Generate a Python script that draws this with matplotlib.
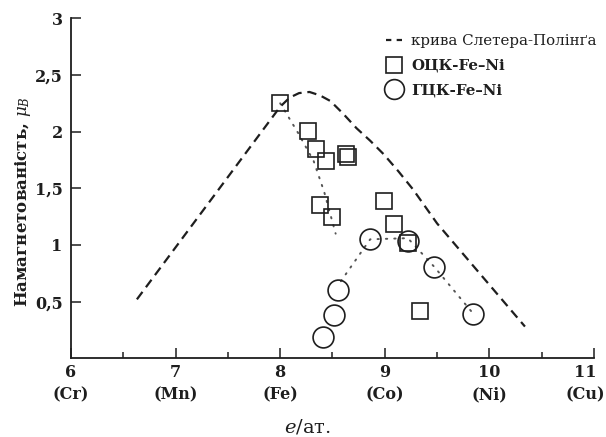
import matplotlib
matplotlib.use("Agg")
import matplotlib.pyplot as plt
from matplotlib.ticker import MultipleLocator, FixedLocator
from matplotlib.transforms import ScaledTranslation

plt.rcParams['font.family'] = ['DejaVu Serif']
plt.rcParams['mathtext.fontset'] = 'dejavuserif'

# Slater-Pauling curve (magnetic moment vs electrons per atom)
sp_x = [6.63, 8.00, 8.09, 8.18, 8.28, 8.38, 8.48, 8.60, 8.73, 8.86, 8.99, 9.13, 9.27, 9.50, 10.34]
sp_y = [0.52, 2.22, 2.30, 2.34, 2.35, 2.32, 2.27, 2.16, 2.03, 1.92, 1.80, 1.65, 1.49, 1.19, 0.28]

# bcc Fe-Ni
bcc_x = [8.00, 8.27, 8.34, 8.44, 8.63, 8.65, 8.38, 8.50, 8.99, 9.09, 9.22, 9.34]
bcc_y = [2.25, 2.01, 1.85, 1.74, 1.80, 1.78, 1.35, 1.245, 1.39, 1.185, 1.02, 0.42]

# fcc Fe-Ni
fcc_x = [8.86, 9.22, 9.47, 8.55, 8.51, 8.41, 9.84]
fcc_y = [1.05, 1.035, 0.81, 0.60, 0.38, 0.19, 0.39]

# dotted trend guides
bcc_trend_x = [8.00, 8.17, 8.32, 8.42, 8.53]
bcc_trend_y = [2.25, 1.99, 1.74, 1.47, 1.10]
fcc_trend_x = [8.58, 8.86, 9.22, 9.47, 9.84]
fcc_trend_y = [0.68, 1.05, 1.06, 0.81, 0.40]

x_ticks = [6, 7, 8, 9, 10, 11]
x_elements = ['Cr', 'Mn', 'Fe', 'Co', 'Ni', 'Cu']
y_ticks = [0.5, 1, 1.5, 2, 2.5, 3]
y_tick_labels = ['0,5', '1', '1,5', '2', '2,5', '3']

ink = '#1e1e1e'

fig = plt.figure(figsize=(6.06, 4.37), dpi=100)
ax = fig.add_axes([71 / 606, 1 - 358.3 / 437, (594 - 71) / 606, (358.3 - 18.3) / 437])

dots = (0, (0.7, 3.6))
ax.plot(bcc_trend_x, bcc_trend_y, linestyle=dots, color='#555555', lw=1.4,
        dash_capstyle='round', zorder=2)
ax.plot(fcc_trend_x, fcc_trend_y, linestyle=dots, color='#555555', lw=1.4,
        dash_capstyle='round', zorder=2)

ax.plot(sp_x, sp_y, color=ink, lw=1.6, dashes=(4.2, 2.6), zorder=3,
        label='крива Слетера-Полінґа')
ax.plot(bcc_x, bcc_y, linestyle='none', marker='s', ms=12.2, mfc='none', mec=ink,
        mew=1.2, zorder=4, label='ОЦК-Fe–Ni')
ax.plot(fcc_x, fcc_y, linestyle='none', marker='o', ms=15, mfc='none', mec=ink,
        mew=1.2, zorder=4, label='ГЦК-Fe–Ni')

ax.set_xlim(6, 11)
ax.set_ylim(0, 3)

ax.xaxis.set_major_locator(FixedLocator(x_ticks))
ax.set_xticklabels([f'{v}\n({e})' for v, e in zip(x_ticks, x_elements)])
ax.xaxis.set_minor_locator(MultipleLocator(0.5))
ax.yaxis.set_major_locator(FixedLocator(y_ticks))
ax.set_yticklabels(y_tick_labels)

ax.tick_params(axis='both', which='major', direction='in', length=7.5, width=1.1,
               color=ink, labelsize=11.5, labelcolor=ink)
ax.tick_params(axis='x', which='minor', direction='in', length=4.5, width=1.1, color=ink)
ax.tick_params(axis='x', which='major', pad=4)
ax.tick_params(axis='y', which='major', pad=6)

xlabels = ax.get_xticklabels()
for lbl in xlabels:
    lbl.set_linespacing(1.45)
# keep the last label inside the figure edge
xlabels[-1].set_transform(xlabels[-1].get_transform()
                          + ScaledTranslation(-6 / 72, 0, fig.dpi_scale_trans))
for lbl in xlabels + ax.get_yticklabels():
    lbl.set_fontweight('bold')

for side in ('top', 'right'):
    ax.spines[side].set_visible(False)
for side in ('left', 'bottom'):
    ax.spines[side].set_linewidth(1.3)
    ax.spines[side].set_color(ink)

ax.set_ylabel(r'Намагнетованість, $\mu_B$', fontsize=12, fontweight='bold', color=ink)
ax.yaxis.set_label_coords(-0.073, 0.46)
ax.set_xlabel(r'$e$/ат.', fontsize=14, color=ink)
ax.xaxis.set_label_coords(0.453, -0.175)

leg = ax.legend(loc='upper left', bbox_to_anchor=(378 / 606, 1 - 27 / 437),
                bbox_transform=fig.transFigure, frameon=False, handlelength=1.15,
                handletextpad=0.55, labelspacing=0.7, borderpad=0, fontsize=10.8,
                markerscale=0.95)
leg.get_lines()[0].set_dashes((2.4, 2.4))
for txt in leg.get_texts():
    txt.set_color(ink)
leg.get_texts()[1].set_fontweight('bold')
leg.get_texts()[2].set_fontweight('bold')

fig.savefig('out.png', dpi=100, facecolor='white')
